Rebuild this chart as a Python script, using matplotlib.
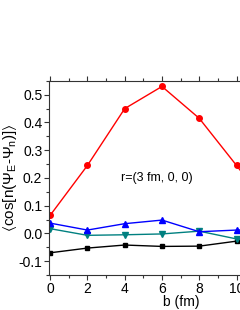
import matplotlib
matplotlib.use("Agg")
import matplotlib.pyplot as plt
from matplotlib.ticker import MultipleLocator

plt.rcParams["font.family"] = ["Liberation Sans", "DejaVu Sans"]
plt.rcParams["mathtext.fontset"] = "custom"
plt.rcParams["mathtext.rm"] = "Liberation Sans"
plt.rcParams["mathtext.it"] = "Liberation Sans"
plt.rcParams["mathtext.fallback"] = "stixsans"

# ── data ─────────────────────────────────────────────────────────────────────
b = [0, 2, 4, 6, 8, 10, 12]
red = [0.065, 0.245, 0.450, 0.530, 0.415, 0.245, 0.070]
blue = [0.037, 0.012, 0.035, 0.048, 0.006, 0.012, 0.015]
teal = [0.017, -0.007, -0.005, -0.002, 0.008, -0.020, -0.030]
black = [-0.070, -0.053, -0.042, -0.047, -0.046, -0.028, -0.020]

# ── plot ─────────────────────────────────────────────────────────────────────
fig = plt.figure(figsize=(2.4, 3.1), dpi=100)
ax = fig.add_axes([0.205, 0.113, 1.099, 0.626])

ax.plot(b, black, "-s", color="black", lw=1, ms=3.5)
ax.plot(b, teal, "-v", color="#008080", lw=1, ms=4)
ax.plot(b, blue, "-^", color="#0000ff", lw=1, ms=4)
ax.plot(b, red, "-o", color="#ff0000", lw=1, ms=4)

ax.set_xlim(-0.05, 14.1)
ax.set_ylim(-0.15, 0.55)
ax.xaxis.set_major_locator(MultipleLocator(2))
ax.xaxis.set_minor_locator(MultipleLocator(1))
ax.yaxis.set_major_locator(MultipleLocator(0.1))
ax.yaxis.set_minor_locator(MultipleLocator(0.05))
ax.yaxis.set_major_formatter(plt.FormatStrFormatter("%.1f"))
ax.tick_params(which="both", direction="out", top=True, right=True,
               labelsize=10, width=0.8, color="#333333", pad=1.5)
ax.tick_params(which="major", length=3.5)
ax.tick_params(which="minor", length=2)
for s in ax.spines.values():
    s.set_color("#333333")
    s.set_linewidth(0.8)

ax.set_xlabel("b (fm)", fontsize=10, labelpad=-1)
ax.set_ylabel(r"$\langle$cos[n(Ψ$_\mathrm{E}$-Ψ$_\mathrm{n}$)]$\rangle$",
              fontsize=11, labelpad=0)
ax.text(5.7, 0.198, "r=(3 fm, 0, 0)", fontsize=9, ha="center", va="center")

fig.savefig("out.png", dpi=100)
